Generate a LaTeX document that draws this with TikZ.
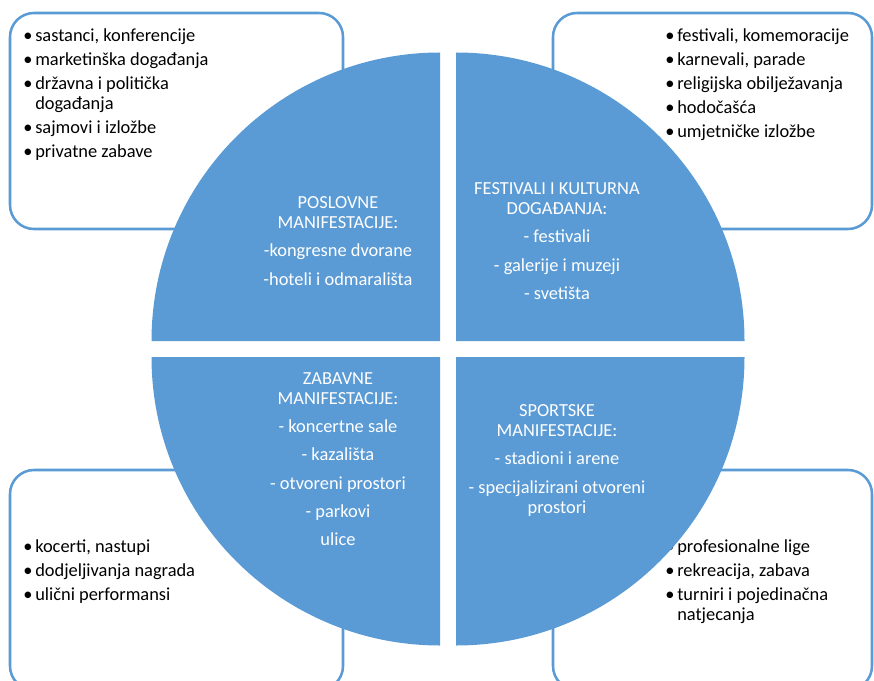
\documentclass[tikz,border=0pt]{standalone}
\usepackage{fontspec}
\setmainfont{Carlito}
\usepackage{tikz}

\definecolor{quadblue}{RGB}{91,155,213}

\newcommand{\bul}{\makebox[9pt][l]{\textbullet}}
\newcommand{\hang}{\hspace*{9pt}}

\begin{document}
\begin{tikzpicture}[x=0.75pt, y=-0.75pt]
\useasboundingbox (0, 0) rectangle (874, 681);
\clip (0, 0) rectangle (874, 681);

\begin{scope}[style={draw=quadblue, line width=1.9pt, rounded corners=18pt}]
	%Top left
	\draw (10, 13) rectangle (343, 229);
	%Top right
	\draw (553, 13) rectangle (872, 229);
	%Bottom left
	\draw (10, 470) rectangle (343, 690);
	%Bottom right
	\draw (553, 470) rectangle (872, 690);
\end{scope}

\begin{scope}[every node/.style={anchor=north west, inner sep=0pt, align=left, font=\fontsize{13.8}{15}\selectfont}]
	%Top left
	\node (L_1) at (23, 28) {\bul sastanci, konferencije\\[3pt]\bul marketinška događanja\\[3pt]\bul državna i politička\\\hang događanja\\[3pt]\bul sajmovi i izložbe\\[3pt]\bul privatne zabave};
	
	%Top right
	\node (L_2) at (665, 28) {\bul festivali, komemoracije\\[3pt]\bul karnevali, parade\\[3pt]\bul religijska obilježavanja\\[3pt]\bul hodočašća\\[3pt]\bul umjetničke izložbe};
	
	%Bottom left
	\node (L_3) at (23, 539) {\bul kocerti, nastupi\\[3pt]\bul dodjeljivanja nagrada\\[3pt]\bul ulični performansi};
	
	%Bottom right
	\node (L_4) at (665, 539) {\bul profesionalne lige\\[3pt]\bul rekreacija, zabava\\[3pt]\bul turniri i pojedinačna\\\hang natjecanja};
\end{scope}

\begin{scope}[style={fill=quadblue}]
	%Top left
	\fill (440, 341) -- (151.5, 341) arc[start angle=180, end angle=270, radius=288.5] -- cycle;
	%Top right
	\fill (456, 341) -- (456, 52.5) arc[start angle=270, end angle=360, radius=288.5] -- cycle;
	%Bottom left
	\fill (440, 357) -- (151.5, 357) arc[start angle=180, end angle=90, radius=288.5] -- cycle;
	%Bottom right
	\fill (456, 357) -- (744.5, 357) arc[start angle=0, end angle=90, radius=288.5] -- cycle;
\end{scope}

\begin{scope}[every node/.style={anchor=north, inner sep=0pt, align=center, text=white, font=\fontsize{13.8}{15.2}\selectfont}]
	%Top left
	\node (Q_1) at (338, 196) {POSLOVNE\\MANIFESTACIJE:\\[6pt]-kongresne dvorane\\[6pt]-hoteli i odmarališta};
	
	%Top right
	\node (Q_2) at (557, 182) {FESTIVALI I KULTURNA\\DOGAĐANJA:\\[6pt]- festivali\\[6pt]- galerije i muzeji\\[6pt]- svetišta};
	
	%Bottom left
	\node (Q_3) at (338, 372) {ZABAVNE\\MANIFESTACIJE:\\[6pt]- koncertne sale\\[6pt]- kazališta\\[6pt]- otvoreni prostori\\[6pt]- parkovi\\[6pt]ulice};
	
	%Bottom right
	\node (Q_4) at (557, 404) {SPORTSKE\\MANIFESTACIJE:\\[6pt]- stadioni i arene\\[6pt]- specijalizirani otvoreni\\prostori};
\end{scope}
\end{tikzpicture}
\end{document}
